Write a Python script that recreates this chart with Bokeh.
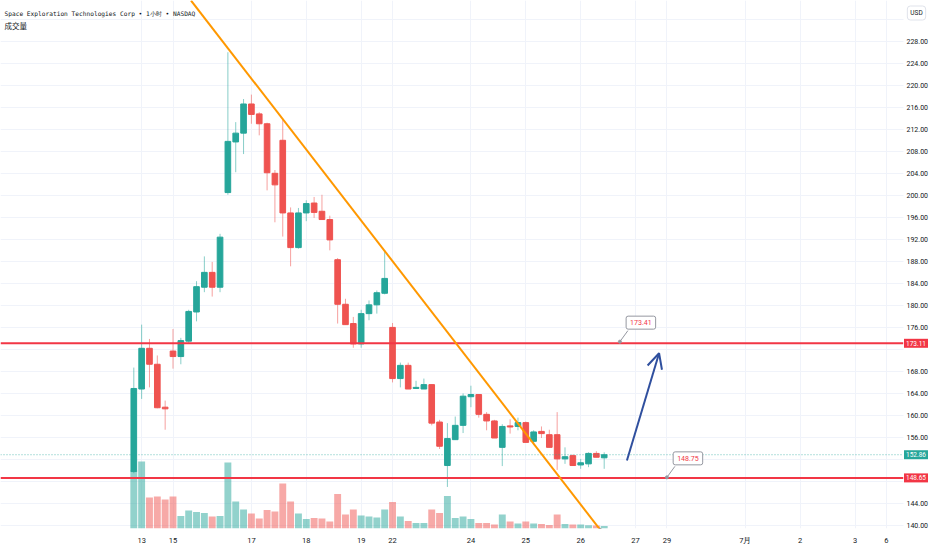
import numpy as np
from bokeh.plotting import figure
from bokeh.models import (Range1d, FixedTicker, SingleIntervalTicker, Label, Arrow,
                          OpenHead, ColumnDataSource)
from bokeh.core.properties import value
from bokeh.embed import file_html
from bokeh.resources import INLINE

# ---------------- data ----------------
TITLE = "Space Exploration Technologies Corp • 1小时 • NASDAQ"
VOLUME_TITLE = "成交量"
CURRENCY = "USD"

OPEN = [149.8, 164.8, 172.2, 169.3, 161.5, 171.7, 170.7, 173.5, 178.8, 183.3,
        186.0, 183.3, 200.5, 209.7, 211.3, 216.6, 214.8, 213.0, 204.0, 210.0,
        196.8, 190.5, 196.8, 198.6, 197.1, 195.6, 188.3, 180.2, 176.7, 173.0,
        178.5, 180.1, 182.2, 176.0, 166.7, 169.1, 164.9, 164.8, 165.6, 158.8,
        150.9, 155.6, 158.2, 163.4, 163.8, 160.2, 159.0, 154.2, 158.1, 158.0,
        158.7, 155.3, 157.1, 156.5, 156.5, 152.1, 152.7, 151.0, 151.2, 153.1,
        152.3]
HIGH = [168.7, 176.5, 173.9, 170.9, 162.7, 175.7, 174.1, 179.2, 184.4, 188.9,
        187.9, 193.0, 226.0, 213.3, 217.5, 218.3, 215.1, 213.2, 204.6, 213.8,
        197.8, 197.7, 199.1, 199.7, 200.1, 196.3, 188.6, 181.2, 177.9, 179.2,
        180.9, 182.7, 190.0, 176.8, 169.6, 169.6, 166.3, 166.7, 165.6, 159.2,
        158.6, 159.8, 164.0, 165.4, 163.8, 160.6, 159.2, 158.4, 159.3, 159.6,
        158.9, 157.3, 158.0, 157.4, 160.6, 154.2, 152.9, 152.1, 153.3, 153.5,
        153.3]
LOW = [149.5, 163.0, 165.1, 161.3, 157.4, 168.5, 169.3, 173.2, 177.1, 182.4,
       181.6, 182.4, 200.1, 204.2, 207.5, 213.0, 210.9, 200.9, 195.1, 192.5,
       187.1, 190.3, 195.3, 195.9, 195.6, 190.0, 176.7, 176.5, 172.3, 172.3,
       177.3, 178.5, 182.0, 166.0, 165.1, 164.8, 164.8, 164.8, 158.2, 153.9,
       147.0, 155.6, 156.8, 161.5, 159.6, 157.3, 155.9, 150.8, 156.7, 157.3,
       155.1, 154.7, 155.9, 154.2, 150.1, 151.2, 150.9, 150.3, 150.6, 152.4,
       150.3]
CLOSE = [164.9, 172.2, 169.3, 161.4, 161.2, 170.7, 173.6, 178.9, 183.4, 186.0,
         183.3, 192.4, 209.8, 211.3, 216.6, 214.7, 213.0, 204.1, 201.9, 196.8,
         190.5, 196.8, 198.5, 196.9, 195.6, 191.9, 180.2, 176.5, 173.0, 178.5,
         180.1, 182.3, 184.9, 166.7, 169.1, 164.8, 165.1, 165.6, 158.6, 154.4,
         155.8, 158.2, 163.5, 163.8, 160.2, 159.0, 155.9, 158.0, 157.9, 158.7,
         155.1, 157.0, 156.7, 154.2, 152.1, 152.5, 150.9, 151.4, 153.1, 152.4,
         152.86]
VOLUME = [5.8, 6.7, 3.1, 3.2, 2.9, 3.2, 1.25, 1.8, 1.65, 1.55,
          1.2, 1.25, 6.6, 2.7, 1.9, 1.5, 1.0, 1.85, 1.7, 4.5,
          2.7, 1.5, 0.95, 1.05, 1.0, 0.7, 3.45, 1.4, 1.9, 1.3,
          1.2, 1.1, 1.9, 2.65, 1.2, 0.75, 0.55, 0.55, 1.9, 1.55,
          3.25, 1.05, 1.2, 0.95, 0.55, 0.55, 0.4, 1.4, 0.7, 0.5,
          0.7, 0.5, 0.45, 0.35, 1.4, 0.45, 0.4, 0.4, 0.33, 0.3,
          0.25]

DAY_TICKS = [1, 5, 15, 22, 29, 33, 43, 50, 57, 64, 68, 78, 85, 92, 96]
DAY_LABELS = ["13", "15", "17", "18", "19", "22", "24", "25", "26", "27", "29",
              "7月", "2", "3", "6"]
PRICE_TICKS = [140, 144, 148, 152, 156, 160, 164, 168, 172, 176, 180, 184, 188,
               192, 196, 200, 204, 208, 212, 216, 220, 224, 228, 232]
PRICE_HIDDEN = [148, 152, 172, 232]   # covered by the price tags / currency box

RESISTANCE = 173.11
SUPPORT = 148.65
LAST_PRICE = 152.86
NOTE_BARS = [62, 68]
NOTE_PRICES = [173.41, 148.75]
TREND_X = [7.3, 59.5]
TREND_Y = [235.4, 139.2]
ARROW_X = [62.9, 67.0]
ARROW_Y = [151.8, 171.3]

# ---------------- layout ----------------
W, H = 930, 548
BORDER_B = 20
FRAME_W, FRAME_H = W, H - BORDER_B
PX_PER_BAR = 7.84
PX_PER_USD = 5.503
X_START = -133.3 / PX_PER_BAR
X_END = X_START + FRAME_W / PX_PER_BAR
Y_TOP = 140 + 525 / PX_PER_USD
Y_BOTTOM = Y_TOP - FRAME_H / PX_PER_USD
VOL_TOP = FRAME_H / 10.0
SCALE_LEFT_PX = 903          # where the price scale strip begins


def px_x(px):
    return X_START + px / PX_PER_BAR


def px_y(py):
    return Y_TOP - py / PX_PER_USD


UP, DOWN = "#26a69a", "#ef5350"
UP_W, DOWN_W = "rgba(38,166,154,0.55)", "rgba(239,83,80,0.55)"
UP_V, DOWN_V = "rgba(38,166,154,0.5)", "rgba(239,83,80,0.5)"
LINE_RED = "#f23645"
TXT = "#131722"

idx = np.arange(len(OPEN))
o, h, l, c = map(np.array, (OPEN, HIGH, LOW, CLOSE))
up = c >= o

src = ColumnDataSource(dict(
    x=idx, open=o, high=h, low=l, close=c,
    top=np.maximum(o, c), bottom=np.minimum(o, c),
    vol=np.array(VOLUME),
    color=[UP if u else DOWN for u in up],
    wick=[UP_W if u else DOWN_W for u in up],
    vcolor=[UP_V if u else DOWN_V for u in up],
))

p = figure(width=W, height=H, x_range=Range1d(X_START, X_END),
           y_range=Range1d(Y_BOTTOM, Y_TOP), y_axis_location=None,
           output_backend="svg", toolbar_location=None,
           min_border_left=0, min_border_top=0, min_border_right=0,
           min_border_bottom=BORDER_B,
           background_fill_color="white", border_fill_color="white",
           outline_line_color=None)
p.extra_y_ranges = {"vol": Range1d(0, VOL_TOP)}

# time axis
xa = p.xaxis[0]
xa.ticker = FixedTicker(ticks=DAY_TICKS)
xa.major_label_overrides = {t: s for t, s in zip(DAY_TICKS, DAY_LABELS)}
xa.axis_line_color = None
xa.major_tick_line_color = None
xa.minor_tick_line_color = None
xa.major_label_standoff = 1
xa.major_label_text_font = "Roboto"
xa.major_label_text_font_size = "7.5px"
xa.major_label_text_color = TXT

p.xgrid.grid_line_color = "#f0f3fa"
p.ygrid.ticker = SingleIntervalTicker(interval=4, num_minor_ticks=0)
p.ygrid.grid_line_color = "#f0f3fa"

# volume
p.vbar(x="x", width=0.88, top="vol", bottom=0, source=src, y_range_name="vol",
       fill_color="vcolor", line_color=None)

# candles
p.segment(x0="x", y0="low", x1="x", y1="high", source=src, line_color="wick", line_width=1)
p.vbar(x="x", width=0.72, top="top", bottom="bottom", source=src,
       fill_color="color", line_color="color", line_width=1)

# levels
x_left, x_scale = X_START, px_x(SCALE_LEFT_PX)
p.segment(x0=[x_left], y0=[LAST_PRICE], x1=[x_scale], y1=[LAST_PRICE],
          line_color=UP, line_alpha=0.7, line_width=1, line_dash="1 2")
p.segment(x0=[x_left, x_left], y0=[RESISTANCE, SUPPORT], x1=[x_scale, x_scale],
          y1=[RESISTANCE, SUPPORT], line_color=LINE_RED, line_width=2)

# trend line
p.line(TREND_X, TREND_Y, line_color="#ff9800", line_width=2)
p.scatter([TREND_X[1]], [TREND_Y[1]], size=3, color="#787b86")

# arrow
p.add_layout(Arrow(end=OpenHead(size=15, line_color="#2f4f9e", line_width=2),
                   x_start=ARROW_X[0], y_start=ARROW_Y[0], x_end=ARROW_X[1], y_end=ARROW_Y[1],
                   line_color="#2f4f9e", line_width=2))

# price notes
for nb, npr in zip(NOTE_BARS, NOTE_PRICES):
    p.segment(x0=[nb], y0=[npr], x1=[nb + 8 / PX_PER_BAR], y1=[npr + 11 / PX_PER_USD],
              line_color="#9598a1", line_width=1)
    p.scatter([nb], [npr], size=3, color="#9598a1")
    p.add_layout(Label(x=nb, y=npr, x_offset=21, y_offset=19, text=f"{npr:.2f}",
                       text_align="center", text_baseline="middle",
                       text_font="Roboto", text_font_size="7px", text_color=LINE_RED,
                       background_fill_color="white", border_line_color="#9598a1",
                       border_line_width=1, padding=4, border_radius=2))

# price scale strip (right)
p.quad(left=[x_scale], right=[X_END], bottom=[Y_BOTTOM], top=[Y_TOP],
       fill_color="white", line_color=None)
shown = [t for t in PRICE_TICKS if t not in PRICE_HIDDEN]
p.text(x=[px_x(906)] * len(shown), y=shown, text=[f"{t:.2f}" for t in shown],
       text_align="left", text_baseline="middle", text_font=value("Roboto"),
       text_font_size=value("7px"), text_color=TXT)

for price, bg in ((RESISTANCE, LINE_RED), (LAST_PRICE, UP), (SUPPORT, LINE_RED)):
    p.add_layout(Label(x=px_x(915.5), y=price, text=f"{price:.2f}",
                       text_align="center", text_baseline="middle",
                       text_font="Roboto", text_font_size="6.5px", text_color="white",
                       background_fill_color=bg, padding=2))

p.add_layout(Label(x=px_x(916), y=px_y(12.5), text=CURRENCY,
                   text_align="center", text_baseline="middle",
                   text_font="Roboto", text_font_size="6.5px", text_color=TXT,
                   background_fill_color="white", border_line_color="#e0e3eb",
                   padding=3, border_radius=3))

# header texts
p.add_layout(Label(x=px_x(4), y=px_y(13), text=TITLE,
                   text_align="left", text_baseline="middle",
                   text_font="DejaVu Sans Mono", text_font_size="6.2px", text_color=TXT))
p.add_layout(Label(x=px_x(4), y=px_y(25), text=VOLUME_TITLE,
                   text_align="left", text_baseline="middle",
                   text_font="Noto Sans CJK SC", text_font_size="7.5px", text_color=TXT))

open("out.html", "w").write(file_html(p, INLINE))
